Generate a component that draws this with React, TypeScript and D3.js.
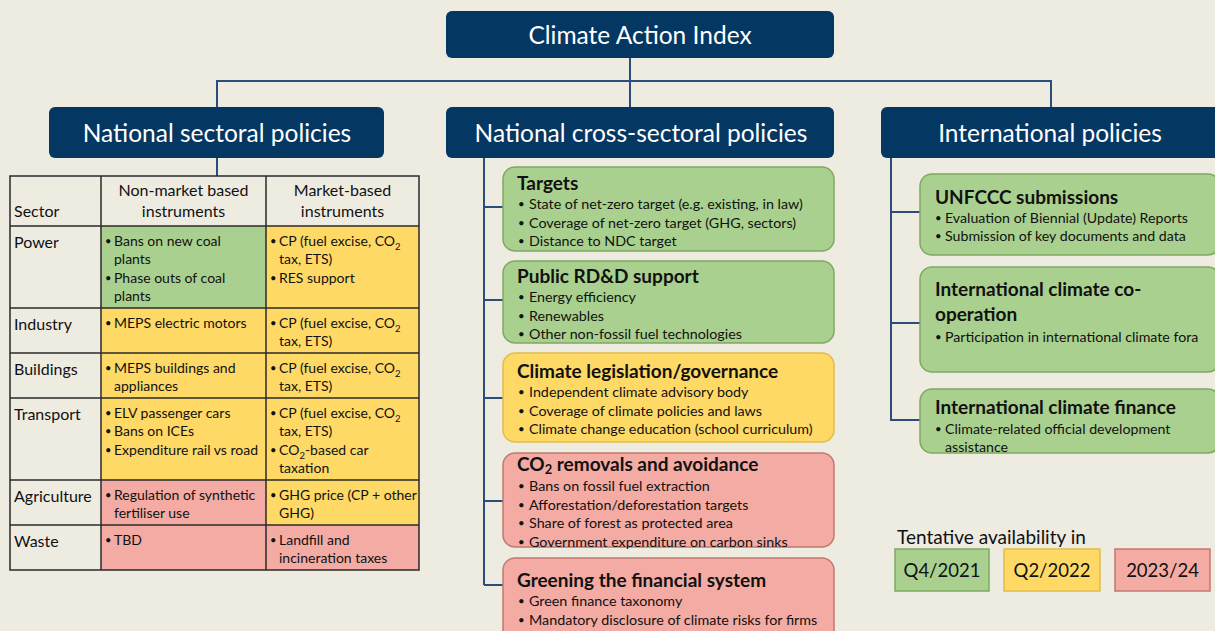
import React, { useEffect, useRef } from "react";
import * as d3 from "d3";

// ---------------- DATA ----------------
const rootTitle = "Climate Action Index";
const pillars = ["National sectoral policies", "National cross-sectoral policies", "International policies"];

const tableHeaders = [["Sector"], ["Non-market based", "instruments"], ["Market-based", "instruments"]];
const sectors = ["Power", "Industry", "Buildings", "Transport", "Agriculture", "Waste"];
const nonMarket = [
  ["• Bans on new coal", "plants", "• Phase outs of coal", "plants"],
  ["• MEPS electric motors"],
  ["• MEPS buildings and", "appliances"],
  ["• ELV passenger cars", "• Bans on ICEs", "• Expenditure rail vs road"],
  ["• Regulation of synthetic", "fertiliser use"],
  ["• TBD"],
];
const nonMarketStatus = ["q4", "q2", "q2", "q2", "late", "late"];
const market = [
  ["• CP (fuel excise, CO2", "tax, ETS)", "• RES support"],
  ["• CP (fuel excise, CO2", "tax, ETS)"],
  ["• CP (fuel excise, CO2", "tax, ETS)"],
  ["• CP (fuel excise, CO2", "tax, ETS)", "• CO2-based car", "taxation"],
  ["• GHG price (CP + other", "GHG)"],
  ["• Landfill and", "incineration taxes"],
];
const marketStatus = ["q2", "q2", "q2", "q2", "q2", "late"];

const crossTitles = ["Targets", "Public RD&D support", "Climate legislation/governance", "CO2 removals and avoidance", "Greening the financial system"];
const crossStatus = ["q4", "q4", "q2", "late", "late"];
const crossItems = [
  ["State of net-zero target (e.g. existing, in law)", "Coverage of net-zero target (GHG, sectors)", "Distance to NDC target"],
  ["Energy efficiency", "Renewables", "Other non-fossil fuel technologies"],
  ["Independent climate advisory body", "Coverage of climate policies and laws", "Climate change education (school curriculum)"],
  ["Bans on fossil fuel extraction", "Afforestation/deforestation targets", "Share of forest as protected area", "Government expenditure on carbon sinks"],
  ["Green finance taxonomy", "Mandatory disclosure of climate risks for firms"],
];

const intlTitles = [["UNFCCC submissions"], ["International climate co-", "operation"], ["International climate finance"]];
const intlStatus = ["q4", "q4", "q4"];
const intlItems = [
  ["• Evaluation of Biennial (Update) Reports", "• Submission of key documents and data"],
  ["• Participation in international climate fora"],
  ["• Climate-related official development", "assistance"],
];

const legendTitle = "Tentative availability in";
const legendLabels = ["Q4/2021", "Q2/2022", "2023/24"];
const legendStatus = ["q4", "q2", "late"];

// ---------------- STYLE ----------------
const BG = "#EEEBE1";
const NAVY = "#053763";
const LINE = "#2C4C7C";
const FONT = "Lato, 'Open Sans', sans-serif";
const FILL: Record<string, string> = { q4: "#A9D08E", q2: "#FFD966", late: "#F3ABA3" };
const STROKE: Record<string, string> = { q4: "#7FA862", q2: "#E2BC4C", late: "#C07A70" };

type Sel = d3.Selection<any, unknown, null, undefined>;

function addText(g: Sel, x: number, y: number, str: string, opts: any = {}) {
  const size = opts.size ?? 13;
  const sub = opts.subShift ?? 0.28;
  const t = g
    .append("text")
    .attr("x", x)
    .attr("y", y)
    .attr("dy", "0.35em")
    .attr("font-family", FONT)
    .attr("font-size", size)
    .attr("font-weight", opts.weight ?? "normal")
    .attr("fill", opts.fill ?? "#111")
    .attr("text-anchor", opts.anchor ?? "start");
  const parts = str.split(/(CO2)/).filter((p) => p.length);
  let shiftBack = false;
  parts.forEach((p) => {
    if (p === "CO2") {
      const co = t.append("tspan").text("CO");
      if (shiftBack) co.attr("dy", `${-sub * size}px`);
      t.append("tspan").attr("dy", `${sub * size}px`).attr("font-size", size * 0.68).text("2");
      shiftBack = true;
    } else {
      const sp = t.append("tspan").text(p);
      if (shiftBack) sp.attr("dy", `${-sub * size}px`);
      shiftBack = false;
    }
  });
  if (opts.maxWidth) {
    const node = t.node() as SVGTextElement;
    const w = node.getComputedTextLength();
    if (w > opts.maxWidth) {
      t.attr("textLength", opts.maxWidth).attr("lengthAdjust", "spacingAndGlyphs");
    }
  }
  return t;
}

function bulletLine(g: Sel, bx: number, tx: number, y: number, line: string, size: number, maxRight: number) {
  if (line.startsWith("• ")) {
    addText(g, bx, y, "•", { size: size * 0.8 });
    addText(g, tx, y, line.slice(2), { size, maxWidth: maxRight - tx });
  } else {
    addText(g, tx, y, line, { size, maxWidth: maxRight - tx });
  }
}

export default function App() {
  const ref = useRef<SVGSVGElement>(null);

  useEffect(() => {
    const svg = d3.select(ref.current as SVGSVGElement);
    svg.selectAll("*").remove();
    svg.append("rect").attr("width", 1215).attr("height", 631).attr("fill", BG);

    // ---- connectors ----
    const lines = svg.append("g").attr("stroke", LINE).attr("stroke-width", 2).attr("fill", "none");
    const pillarX = d3.scaleOrdinal<string, number>().domain(pillars).range([217, 630, 1051]);
    lines.append("path").attr("d", d3.line()([[630, 58], [630, 107]]));
    lines.append("path").attr("d", `M${pillarX(pillars[0])},107V81H${pillarX(pillars[2])}V107`);

    // ---- root box ----
    svg.append("rect").attr("x", 446).attr("y", 11).attr("width", 388).attr("height", 47).attr("rx", 6).attr("fill", NAVY);
    addText(svg, 640, 35, rootTitle, { size: 24.5, fill: "#fff", anchor: "middle" });

    // ---- pillar boxes ----
    const pBoxX = [49, 446, 881];
    const pBoxW = [335, 388, 345];
    const pTextX = [217, 641, 1050];
    pillars.forEach((p, i) => {
      svg.append("rect").attr("x", pBoxX[i]).attr("y", 107).attr("width", pBoxW[i]).attr("height", 51).attr("rx", 6).attr("fill", NAVY);
      addText(svg, pTextX[i], 133, p, { size: 24.5, fill: "#fff", anchor: "middle" });
    });

    // ---- table ----
    lines.append("path").attr("d", "M217,158V176");
    const tableTop = 176;
    const headerH = 50;
    const lineH = 18.5;
    const rowH = sectors.map((_, i) => Math.max(nonMarket[i].length, market[i].length) * lineH + 8);
    const rowTops = [tableTop + headerH, ...d3.cumsum(rowH).map((c) => tableTop + headerH + c)];
    const colEdges = [10, 101, 266, 419];
    const tbl = svg.append("g");
    sectors.forEach((_, i) => {
      tbl.append("rect").attr("x", colEdges[1]).attr("y", rowTops[i]).attr("width", colEdges[2] - colEdges[1]).attr("height", rowH[i]).attr("fill", FILL[nonMarketStatus[i]]);
      tbl.append("rect").attr("x", colEdges[2]).attr("y", rowTops[i]).attr("width", colEdges[3] - colEdges[2]).attr("height", rowH[i]).attr("fill", FILL[marketStatus[i]]);
    });
    const tableBottom = rowTops[rowTops.length - 1];
    const grid = tbl.append("g").attr("stroke", "#2a2a2a").attr("stroke-width", 1.5).attr("fill", "none");
    grid.append("rect").attr("x", colEdges[0]).attr("y", tableTop).attr("width", colEdges[3] - colEdges[0]).attr("height", tableBottom - tableTop);
    colEdges.slice(1, 3).forEach((x) => grid.append("line").attr("x1", x).attr("x2", x).attr("y1", tableTop).attr("y2", tableBottom));
    rowTops.slice(0, -1).forEach((y) => grid.append("line").attr("x1", colEdges[0]).attr("x2", colEdges[3]).attr("y1", y).attr("y2", y));
    addText(tbl, 14, 211, tableHeaders[0][0], { size: 16 });
    [1, 2].forEach((c) => {
      const cx = (colEdges[c] + colEdges[c + 1]) / 2;
      tableHeaders[c].forEach((l, k) => addText(tbl, cx, 190 + k * 21, l, { size: 16, anchor: "middle" }));
    });
    sectors.forEach((s, i) => {
      const top = rowTops[i];
      addText(tbl, 14, top + 16, s, { size: 16 });
      nonMarket[i].forEach((l, k) => bulletLine(tbl, colEdges[1] + 4, colEdges[1] + 13, top + 15 + k * lineH, l, 14, colEdges[2] - 2));
      market[i].forEach((l, k) => bulletLine(tbl, colEdges[2] + 4, colEdges[2] + 13, top + 15 + k * lineH, l, 14, colEdges[3] - 2));
    });

    // ---- cross-sectoral boxes ----
    const cTops = [167, 261, 353, 453, 558];
    const cH = [84, 82, 89, 94, 90];
    const cTitleOff = [16, 15, 18, 11, 22];
    const cItemOff = [21, 21, 21, 22, 21];
    const cX = 503, cW = 331;
    lines.append("path").attr("d", `M484,158V${cTops[4] + 27}`);
    crossTitles.forEach((t, i) => {
      const y0 = cTops[i];
      const branchY = [207, 300, 398, 501, 585][i];
      lines.append("path").attr("d", `M484,${branchY}H${cX}`);
      svg.append("rect").attr("x", cX).attr("y", y0).attr("width", cW).attr("height", cH[i]).attr("rx", 12)
        .attr("fill", FILL[crossStatus[i]]).attr("stroke", STROKE[crossStatus[i]]).attr("stroke-width", 1.5);
      addText(svg, 517, y0 + cTitleOff[i], t, { size: 19, weight: "bold", maxWidth: cW - 20, subShift: 0.2 });
      crossItems[i].forEach((it, k) => bulletLine(svg, 518, 529, y0 + cTitleOff[i] + cItemOff[i] + k * lineH, "• " + it, 14.3, cX + cW - 6));
    });

    // ---- international boxes ----
    const iTops = [174, 267, 389];
    const iH = [81, 105, 64];
    const iX = 920, iW = 300;
    const iTitleY = [[197], [289, 314], [407]];
    const iItemY = [218, 337, 429];
    lines.append("path").attr("d", `M891,158V421`);
    [212, 323, 420].forEach((y) => lines.append("path").attr("d", `M891,${y}H${iX}`));
    intlTitles.forEach((tl, i) => {
      svg.append("rect").attr("x", iX).attr("y", iTops[i]).attr("width", iW).attr("height", iH[i]).attr("rx", 12)
        .attr("fill", FILL[intlStatus[i]]).attr("stroke", STROKE[intlStatus[i]]).attr("stroke-width", 1.5);
      tl.forEach((l, k) => addText(svg, 935, iTitleY[i][k], l, { size: 19, weight: "bold", maxWidth: 1212 - 935 }));
      intlItems[i].forEach((it, k) => bulletLine(svg, 935, 945, iItemY[i] + k * lineH, it, 14.2, 1212));
    });

    // ---- legend ----
    addText(svg, 897, 537, legendTitle, { size: 19 });
    const lgX = d3.scaleOrdinal<string, number>().domain(legendLabels).range([895, 1004, 1115]);
    const lgW = [94, 96, 95];
    legendLabels.forEach((l, i) => {
      const x = lgX(l);
      svg.append("rect").attr("x", x).attr("y", 549).attr("width", lgW[i]).attr("height", 42)
        .attr("fill", FILL[legendStatus[i]]).attr("stroke", STROKE[legendStatus[i]]).attr("stroke-width", 1.5);
      addText(svg, x + lgW[i] / 2, 571, l, { size: 18.5, anchor: "middle" });
    });
  }, []);

  return (
    <svg
      ref={ref}
      width={1215}
      height={631}
      style={{ position: "absolute", left: 0, top: 0, display: "block" }}
    />
  );
}
